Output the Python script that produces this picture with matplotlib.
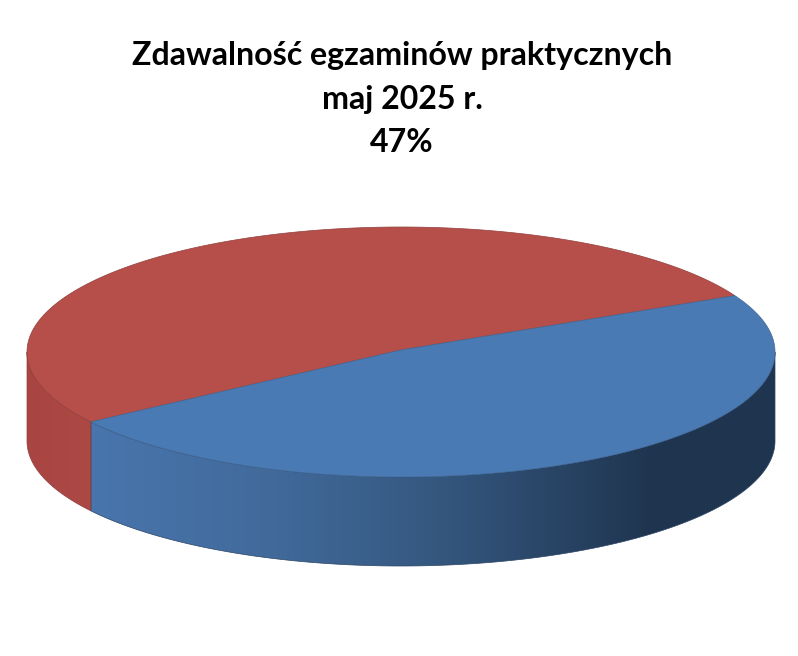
#!/usr/bin/env python3
"""3D-look pie: pass rate of practical exams, May 2025."""
import numpy as np
import matplotlib

matplotlib.use("Agg")
import matplotlib.pyplot as plt
from matplotlib.colors import LinearSegmentedColormap
from matplotlib.patches import Polygon

title_lines = ["Zdawalność egzaminów praktycznych", "maj 2025 r.", "47%"]
slice_names = ["zdane", "niezdane"]
slice_values = [48, 52]

CX, CY = 401, 352
RX, RY = 374, 125
DEPTH = 89
START_ANGLE = 26.8

C_BLUE = "#4a7ab4"
C_RED = "#b64e4a"
C_BLUE_EDGE = "#3f6795"
C_RED_EDGE = "#93403d"

fig = plt.figure(figsize=(7.98, 6.56), dpi=100)
ax = fig.add_axes([0, 0, 1, 1])
ax.axis("off")


def rim(a0, a1, dy=0, n=300):
    t = np.radians(np.linspace(a0, a1, n))
    return np.column_stack([CX + RX * np.cos(t), CY - RY * np.sin(t) + dy])


# slice angles run clockwise from the start angle
sweep = np.array(slice_values) / sum(slice_values) * 360
blue_a0, blue_a1 = START_ANGLE, START_ANGLE - sweep[0]
red_a0, red_a1 = blue_a1, blue_a1 - sweep[1]


def wall(a0, a1, stops, edge):
    top = rim(a0, a1)
    bot = rim(a1, a0, DEPTH)
    pts = np.vstack([top, bot])
    p = Polygon(pts, closed=True, fc="none", ec=edge, lw=0.5, zorder=2)
    ax.add_patch(p)
    cmap = LinearSegmentedColormap.from_list("w", stops)
    x0, x1 = pts[:, 0].min(), pts[:, 0].max()
    im = ax.imshow(np.linspace(0, 1, 512)[None, :], cmap=cmap, aspect="auto",
                   extent=(x0, x1, pts[:, 1].max(), pts[:, 1].min()), zorder=1)
    im.set_clip_path(p)


# only the front half of the rim shows a wall
wall(blue_a1, 0, [
    (0.0, "#4875ad"), (0.25, "#426b9c"), (0.5, "#355880"),
    (0.72, "#26405f"), (0.82, "#1f354f"), (1.0, "#1f354f")], "#2a4464")
wall(-180, blue_a1, [(0.0, "#a84542"), (1.0, "#ad4945")], C_RED_EDGE)

ax.set_xlim(0, 798)
ax.set_ylim(656, 0)

# top faces
centre = np.array([[CX, CY - 2]])
ax.add_patch(Polygon(np.vstack([centre, rim(red_a0, red_a1)]), closed=True,
                     fc=C_RED, ec=C_RED_EDGE, lw=0.5, zorder=3))
ax.add_patch(Polygon(np.vstack([centre, rim(blue_a0, blue_a1)]), closed=True,
                     fc=C_BLUE, ec=C_BLUE_EDGE, lw=0.5, zorder=4))

for y, line in zip([56, 99, 142], title_lines):
    ax.text(402, y, line, ha="center", va="center", fontsize=23.1,
            fontweight="bold", family=["Lato", "DejaVu Sans"], color="black")

fig.savefig("out.png", dpi=100, facecolor="white")
